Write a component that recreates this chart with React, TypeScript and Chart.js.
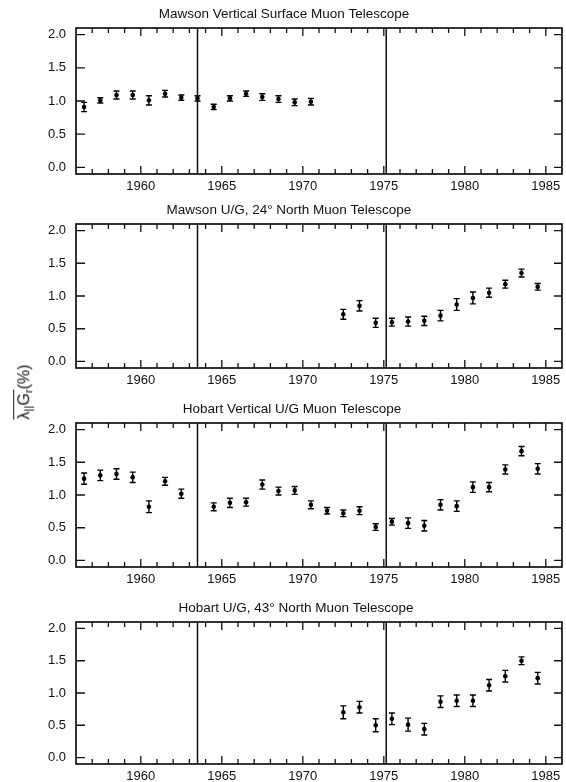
import React, { useEffect, useRef } from "react";
import { Chart, registerables } from "chart.js";

Chart.register(...registerables);

// ---------------- data ----------------
const panelTitles = [
  "Mawson Vertical Surface Muon Telescope",
  "Mawson U/G, 24° North Muon Telescope",
  "Hobart Vertical U/G Muon Telescope",
  "Hobart U/G, 43° North Muon Telescope",
];

const mawsonSurfaceYears = [1956.5, 1957.5, 1958.5, 1959.5, 1960.5, 1961.5, 1962.5, 1963.5, 1964.5, 1965.5, 1966.5, 1967.5, 1968.5, 1969.5, 1970.5];
const mawsonSurfaceValues = [0.91, 1.01, 1.09, 1.09, 1.01, 1.11, 1.05, 1.04, 0.91, 1.04, 1.11, 1.06, 1.03, 0.98, 0.99];
const mawsonSurfaceErrors = [0.07, 0.04, 0.06, 0.06, 0.07, 0.05, 0.04, 0.04, 0.04, 0.04, 0.04, 0.05, 0.05, 0.05, 0.05];

const mawsonNorthYears = [1972.5, 1973.5, 1974.5, 1975.5, 1976.5, 1977.5, 1978.5, 1979.5, 1980.5, 1981.5, 1982.5, 1983.5, 1984.5];
const mawsonNorthValues = [0.72, 0.85, 0.59, 0.6, 0.61, 0.62, 0.7, 0.87, 0.97, 1.05, 1.18, 1.35, 1.14];
const mawsonNorthErrors = [0.075, 0.08, 0.07, 0.06, 0.07, 0.07, 0.08, 0.09, 0.09, 0.07, 0.06, 0.06, 0.05];

const hobartVerticalYears = [1956.5, 1957.5, 1958.5, 1959.5, 1960.5, 1961.5, 1962.5, 1964.5, 1965.5, 1966.5, 1967.5, 1968.5, 1969.5, 1970.5, 1971.5, 1972.5, 1973.5, 1974.5, 1975.5, 1976.5, 1977.5, 1978.5, 1979.5, 1980.5, 1981.5, 1982.5, 1983.5, 1984.5];
const hobartVerticalValues = [1.25, 1.3, 1.32, 1.27, 0.82, 1.21, 1.02, 0.82, 0.88, 0.89, 1.16, 1.06, 1.07, 0.85, 0.76, 0.72, 0.76, 0.51, 0.59, 0.57, 0.53, 0.85, 0.83, 1.12, 1.12, 1.39, 1.67, 1.4];
const hobartVerticalErrors = [0.085, 0.08, 0.08, 0.08, 0.09, 0.06, 0.07, 0.06, 0.07, 0.06, 0.07, 0.06, 0.06, 0.06, 0.05, 0.05, 0.06, 0.05, 0.05, 0.08, 0.08, 0.08, 0.08, 0.08, 0.07, 0.07, 0.07, 0.08];

const hobartNorthYears = [1972.5, 1973.5, 1974.5, 1975.5, 1976.5, 1977.5, 1978.5, 1979.5, 1980.5, 1981.5, 1982.5, 1983.5, 1984.5];
const hobartNorthValues = [0.7, 0.78, 0.5, 0.6, 0.51, 0.44, 0.865, 0.88, 0.88, 1.12, 1.26, 1.5, 1.23];
const hobartNorthErrors = [0.1, 0.09, 0.1, 0.09, 0.1, 0.09, 0.09, 0.09, 0.09, 0.09, 0.09, 0.06, 0.09];

const boundaryYears = [1963.5, 1975.15];
const xTickYears = [1960, 1965, 1970, 1975, 1980, 1985];
const yTickValues = [0, 0.5, 1.0, 1.5, 2.0];
const xMin = 1956;
const xMax = 1986;
const yMin = -0.1;
const yMax = 2.1;

// ---------------- layout ----------------
const panelLayout = [
  { top: 28, bottom: 174, titleX: 284 },
  { top: 224, bottom: 368, titleX: 289 },
  { top: 423, bottom: 567, titleX: 292 },
  { top: 622, bottom: 764, titleX: 296 },
];

const FONT = '"Liberation Sans", Arial, Helvetica, sans-serif';
const INK = "#111";
const TOP_PAD = 28;
const X_AXIS_H = 18;
const CANVAS_W = 566;

type PanelProps = {
  title: string;
  years: number[];
  values: number[];
  errors: number[];
  layout: { top: number; bottom: number; titleX: number };
};

function Panel({ title, years, values, errors, layout }: PanelProps) {
  const ref = useRef<HTMLCanvasElement | null>(null);
  const height = layout.bottom - layout.top + TOP_PAD + X_AXIS_H;

  useEffect(() => {
    if (!ref.current) return;

    const framePlugin = {
      id: "frameTicks",
      beforeDatasetsDraw(chart: any) {
        const { ctx, chartArea: a, scales } = chart;
        const x = scales.x;
        const y = scales.y;
        ctx.save();
        ctx.strokeStyle = INK;
        ctx.lineWidth = 1.3;
        ctx.beginPath();
        for (let yr = xMin + 1; yr < xMax; yr++) {
          const px = x.getPixelForValue(yr);
          const len = yr % 5 === 0 ? 8 : 5;
          ctx.moveTo(px, a.bottom);
          ctx.lineTo(px, a.bottom - len);
          ctx.moveTo(px, a.top);
          ctx.lineTo(px, a.top + len);
        }
        for (const v of yTickValues) {
          const py = y.getPixelForValue(v);
          ctx.moveTo(a.left, py);
          ctx.lineTo(a.left + 9, py);
          ctx.moveTo(a.right, py);
          ctx.lineTo(a.right - 8, py);
        }
        ctx.stroke();
        ctx.lineWidth = 1.5;
        ctx.beginPath();
        for (const b of boundaryYears) {
          const px = x.getPixelForValue(b);
          ctx.moveTo(px, a.top);
          ctx.lineTo(px, a.bottom);
        }
        ctx.stroke();
        ctx.lineWidth = 1.7;
        ctx.strokeRect(a.left, a.top, a.right - a.left, a.bottom - a.top);
        ctx.restore();
      },
      afterDraw(chart: any) {
        const { ctx, chartArea: a } = chart;
        ctx.save();
        ctx.fillStyle = INK;
        ctx.font = `13.5px ${FONT}`;
        ctx.textAlign = "center";
        ctx.textBaseline = "middle";
        ctx.fillText(title, layout.titleX, a.top - 14);
        ctx.restore();
      },
    };

    const errorPlugin = {
      id: "errorBars",
      afterDatasetsDraw(chart: any) {
        const { ctx, scales } = chart;
        const x = scales.x;
        const y = scales.y;
        ctx.save();
        ctx.strokeStyle = "#000";
        ctx.lineWidth = 1.4;
        ctx.beginPath();
        years.forEach((yr, i) => {
          const px = x.getPixelForValue(yr);
          const lo = y.getPixelForValue(values[i] - errors[i]);
          const hi = y.getPixelForValue(values[i] + errors[i]);
          ctx.moveTo(px, lo);
          ctx.lineTo(px, hi);
          ctx.moveTo(px - 3, lo);
          ctx.lineTo(px + 3, lo);
          ctx.moveTo(px - 3, hi);
          ctx.lineTo(px + 3, hi);
        });
        ctx.stroke();
        ctx.restore();
      },
    };

    const chart = new Chart(ref.current, {
      type: "scatter",
      data: {
        datasets: [
          {
            data: years.map((yr, i) => ({ x: yr, y: values[i] })),
            pointRadius: 2.3,
            pointBackgroundColor: "#000",
            pointBorderWidth: 0,
            showLine: false,
          },
        ],
      },
      options: {
        animation: false,
        responsive: false,
        events: [],
        layout: { padding: { left: 36, right: 1, top: TOP_PAD, bottom: 0 } },
        plugins: {
          legend: { display: false },
          tooltip: { enabled: false },
          title: { display: false },
        },
        scales: {
          x: {
            type: "linear",
            min: xMin,
            max: xMax,
            afterBuildTicks: (s: any) => {
              s.ticks = xTickYears.map((v) => ({ value: v }));
            },
            afterFit: (s: any) => {
              s.height = X_AXIS_H;
            },
            grid: { display: false, drawTicks: false },
            border: { display: false },
            ticks: {
              padding: 5,
              color: INK,
              font: { family: FONT, size: 13 },
              maxRotation: 0,
              autoSkip: false,
              callback: (v: any) => String(v),
            },
          },
          y: {
            type: "linear",
            min: yMin,
            max: yMax,
            afterBuildTicks: (s: any) => {
              s.ticks = yTickValues.map((v) => ({ value: v }));
            },
            afterFit: (s: any) => {
              s.width = 40;
            },
            grid: { display: false, drawTicks: false },
            border: { display: false },
            ticks: {
              padding: 10,
              color: INK,
              font: { family: FONT, size: 13 },
              callback: (v: any) => Number(v).toFixed(1),
            },
          },
        },
      },
      plugins: [framePlugin, errorPlugin],
    } as any);

    return () => chart.destroy();
  }, []);

  return (
    <canvas
      ref={ref}
      width={CANVAS_W}
      height={height}
      style={{
        position: "absolute",
        left: 0,
        top: layout.top - TOP_PAD,
        width: CANVAS_W,
        height,
      }}
    />
  );
}

export default function App() {
  const panels = [
    { years: mawsonSurfaceYears, values: mawsonSurfaceValues, errors: mawsonSurfaceErrors },
    { years: mawsonNorthYears, values: mawsonNorthValues, errors: mawsonNorthErrors },
    { years: hobartVerticalYears, values: hobartVerticalValues, errors: hobartVerticalErrors },
    { years: hobartNorthYears, values: hobartNorthValues, errors: hobartNorthErrors },
  ];
  const subStyle: React.CSSProperties = {
    fontSize: "0.72em",
    position: "relative",
    top: "0.3em",
    verticalAlign: "baseline",
  };
  return (
    <div
      style={{
        position: "absolute",
        left: 0,
        top: 0,
        width: 566,
        height: 782,
        overflow: "hidden",
        background: "#fff",
      }}
    >
      {panels.map((p, i) => (
        <Panel
          key={i}
          title={panelTitles[i]}
          years={p.years}
          values={p.values}
          errors={p.errors}
          layout={panelLayout[i]}
        />
      ))}
      <div
        style={{
          position: "absolute",
          left: 23,
          top: 392,
          transform: "translate(-50%, -50%) rotate(-90deg)",
          whiteSpace: "nowrap",
          fontFamily: FONT,
          fontSize: 16,
          color: INK,
          lineHeight: 1.1,
        }}
      >
        <span
          style={{
            display: "inline-block",
            borderTop: "1.2px solid #111",
            paddingTop: 1,
            lineHeight: 1.1,
          }}
        >
          λ<span style={subStyle}>||</span>G<span style={subStyle}>r</span>
        </span>
        (%)
      </div>
    </div>
  );
}
